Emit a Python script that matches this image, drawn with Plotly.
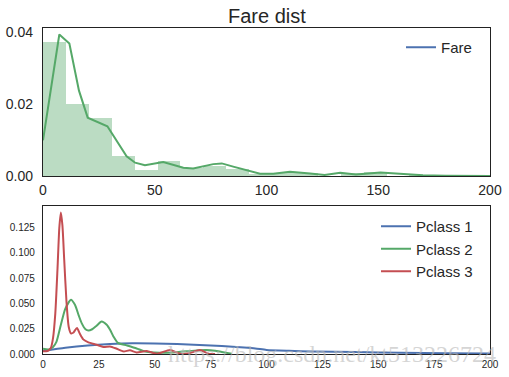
import plotly.graph_objects as go

W, H = 509, 377

# ---------------- data ----------------
# Top: Fare histogram (density), bin width ~10.2466 (50 bins over 0..512.33)
bin_width = 10.2466
bin_left = [i * bin_width for i in range(20)]
bin_density = [0.0372, 0.0200, 0.0162, 0.0056, 0.0018, 0.0043, 0.0022, 0.0028,
               0.0020, 0.0005, 0.0009, 0.0008, 0.0001, 0.0008, 0.0010, 0.0000,
               0.0002, 0.0000, 0.0000, 0.0000]

# Top: Fare KDE
fare_kde_x = [0, 7.3, 11.8, 16.1, 20.0, 28.8, 37.4, 41.2, 45.6, 53.8, 62.8, 67.2,
              76.2, 80.0, 85.1, 91.9, 97.1, 103, 110.5, 119.5, 126, 133, 140, 151,
              160, 170, 180, 200]
fare_kde_y = [0.0099, 0.0393, 0.0368, 0.0237, 0.0162, 0.0138, 0.0055, 0.0037, 0.0030,
              0.0039, 0.0023, 0.0021, 0.0033, 0.0035, 0.0026, 0.0015, 0.0006, 0.0006,
              0.0012, 0.0007, 0.0003, 0.0009, 0.0004, 0.0010, 0.0006, 0.0002, 0.0001,
              0.0000]

# Bottom: Fare KDE per class
p1_x = [0, 10, 20, 30, 40, 50, 60, 70, 80, 90, 95, 100, 110, 120, 140, 160, 180, 200]
p1_y = [0.0030, 0.0062, 0.0085, 0.0099, 0.0106, 0.0104, 0.0098, 0.0089, 0.0078,
        0.0064, 0.0055, 0.0040, 0.0031, 0.0025, 0.0019, 0.0013, 0.0008, 0.0006]

p2_x = [0, 2.5, 4.5, 6, 8, 10, 12.5, 14.3, 16, 17.3, 19, 20.3, 22, 24, 26.2, 28.5, 30,
        31.5, 33.5, 37.4, 41.9, 44.9, 48, 52.3, 58.3, 64.3, 70, 73.2, 77, 80, 84.4]
p2_y = [0.0052, 0.0045, 0.0070, 0.0120, 0.0290, 0.0450, 0.0537, 0.0487, 0.0380, 0.0306,
        0.0245, 0.0232, 0.0245, 0.0280, 0.0322, 0.0290, 0.0240, 0.0174, 0.0110, 0.0085,
        0.0055, 0.0030, 0.0018, 0.0013, 0.0016, 0.0026, 0.0038, 0.0040, 0.0032, 0.0020,
        0.0003]

p3_x = [0, 2, 3.5, 4.5, 5.5, 6.5, 7.3, 8.0, 8.7, 9.5, 10.5, 11.5, 12.5, 13.5, 15.2, 16.5,
        18, 20.3, 24, 27, 30, 33, 36, 38.9, 41.9, 46.4, 50.9, 56.8, 61.3, 65, 70.2, 74, 77]
p3_y = [0.0026, 0.0030, 0.0060, 0.0160, 0.0400, 0.0850, 0.1250, 0.1400, 0.1270, 0.0930,
        0.0520, 0.0270, 0.0205, 0.0210, 0.0258, 0.0200, 0.0145, 0.0115, 0.0092, 0.0070,
        0.0075, 0.0052, 0.0026, 0.0036, 0.0016, 0.0030, 0.0002, 0.0040, 0.0003, 0.0005,
        0.0040, 0.0004, 0.0000]

top_xticks = [0, 50, 100, 150, 200]
top_yticks = [0.00, 0.02, 0.04]
bot_xticks = [0, 25, 50, 75, 100, 125, 150, 175, 200]
bot_yticks = [0.000, 0.025, 0.050, 0.075, 0.100, 0.125]

BLUE, GREEN, RED = "#4C72B0", "#55A868", "#C44E52"
TXT = "#262626"
FONT = "Liberation Sans, Arial, sans-serif"

fig = go.Figure()

# top
fig.add_trace(go.Bar(x=bin_left, y=bin_density, width=bin_width, offset=0,
                     marker=dict(color="rgba(85,168,104,0.4)", line=dict(width=0)),
                     showlegend=False, xaxis="x", yaxis="y", hoverinfo="skip"))
fig.add_trace(go.Scatter(x=fare_kde_x, y=fare_kde_y, mode="lines",
                         line=dict(color=GREEN, width=2), showlegend=False,
                         xaxis="x", yaxis="y"))
fig.add_trace(go.Scatter(x=[None], y=[None], mode="lines", name="Fare",
                         line=dict(color=BLUE, width=2), xaxis="x", yaxis="y",
                         legend="legend"))

# bottom
for name, xs, ys, c in [("Pclass 1", p1_x, p1_y, BLUE),
                        ("Pclass 2", p2_x, p2_y, GREEN),
                        ("Pclass 3", p3_x, p3_y, RED)]:
    fig.add_trace(go.Scatter(x=xs, y=ys, mode="lines", name=name,
                             line=dict(color=c, width=2, shape="spline", smoothing=0.6),
                             xaxis="x2", yaxis="y2", legend="legend2"))

def px_x(p):
    return p / W

def px_y(p):
    return 1 - p / H

axis_common = dict(showline=True, mirror=True, linecolor="#222222", linewidth=1.3,
                   showgrid=False, zeroline=False, ticks="", automargin=False)

fig.update_layout(
    width=W, height=H,
    margin=dict(l=0, r=0, t=0, b=0, autoexpand=False),
    paper_bgcolor="white", plot_bgcolor="white",
    font=dict(family=FONT, color=TXT),
    bargap=0,
    xaxis=dict(domain=[px_x(43), px_x(490)], range=[0, 200], anchor="y",
               tickvals=top_xticks, tickfont=dict(size=14), ticklabelstandoff=1,
               **axis_common),
    yaxis=dict(domain=[px_y(176), px_y(28)], range=[0, 0.0411], anchor="x",
               tickvals=top_yticks, ticktext=["0.00", "0.02", "0.04"],
               tickfont=dict(size=14), ticklabelstandoff=6, **axis_common),
    xaxis2=dict(domain=[px_x(43), px_x(490)], range=[0, 200], anchor="y2",
                tickvals=bot_xticks, tickfont=dict(size=10), ticklabelstandoff=1,
                **axis_common),
    yaxis2=dict(domain=[px_y(354), px_y(206)], range=[0, 0.1465], anchor="x2",
                tickvals=bot_yticks, ticktext=["%.3f" % v for v in bot_yticks],
                tickfont=dict(size=10), ticklabelstandoff=5, **axis_common),
    legend=dict(x=px_x(401), y=px_y(31), xanchor="left", yanchor="top",
                bgcolor="rgba(0,0,0,0)", borderwidth=0, font=dict(size=15)),
    legend2=dict(x=px_x(376), y=px_y(210), xanchor="left", yanchor="top",
                 bgcolor="rgba(0,0,0,0)", borderwidth=0, font=dict(size=15),
                 tracegroupgap=0),
    annotations=[
        dict(text="Fare dist", x=px_x(266.5), y=px_y(15.5), xref="paper", yref="paper",
             xanchor="center", yanchor="middle", showarrow=False,
             font=dict(size=20, color=TXT)),
        dict(text="https://blog.csdn.net/kt513226724", x=px_x(332), y=px_y(354),
             xref="paper", yref="paper", xanchor="center", yanchor="middle",
             showarrow=False,
             font=dict(size=24, family="Liberation Serif, DejaVu Serif, serif",
                       color="rgba(185,185,185,0.6)")),
    ],
)

fig.write_html("out.html", config={"displayModeBar": False},
               post_script="document.body.style.margin='0';document.body.style.padding='0';")
